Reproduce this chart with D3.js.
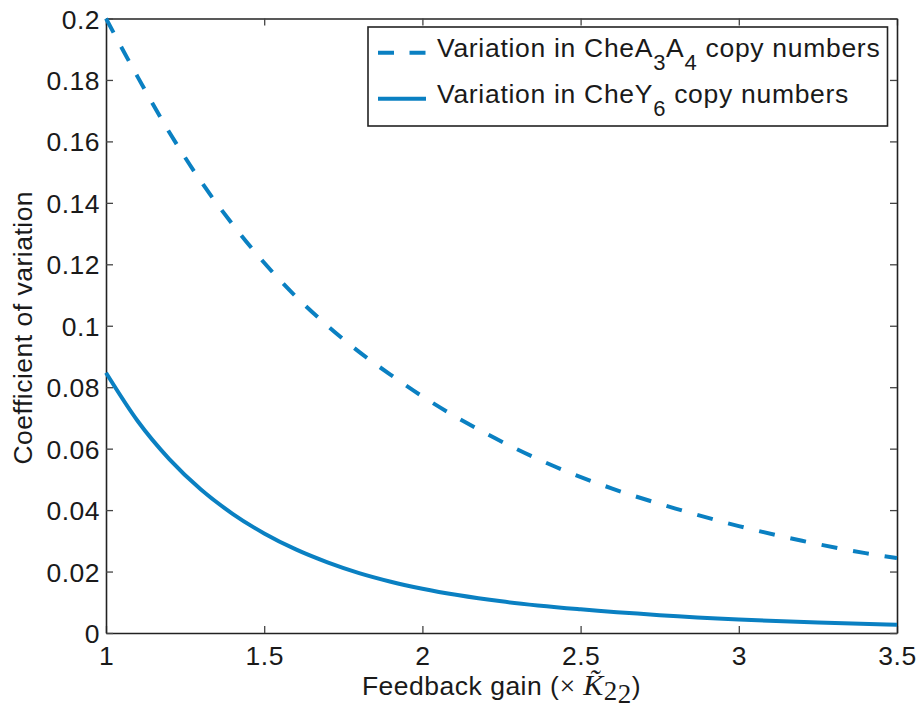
<!DOCTYPE html>
<html>
<head>
<meta charset="utf-8">
<script src="https://cdn.jsdelivr.net/npm/d3@7"></script>
<style>
  html, body { margin: 0; padding: 0; background: #fff; }
  svg { display: block; }
  text { font-family: "Liberation Sans", Arial, Helvetica, sans-serif; fill: #1a1a1a; letter-spacing: 0.5px; }
</style>
</head>
<body>
<svg id="chart" width="917" height="714"></svg>
<script>
// Feedback gain values (multiples of K22)
const gainA = [1.0, 1.1, 1.2, 1.3, 1.4, 1.5, 1.6, 1.7, 1.8, 1.9, 2.0, 2.2, 2.4, 2.6, 2.8, 3.0, 3.2, 3.4, 3.5];
// Coefficient of variation when CheA3A4 copy numbers vary
const cvCheA = [0.200, 0.181, 0.163, 0.147, 0.133, 0.1205, 0.1095, 0.100, 0.0915, 0.084, 0.077, 0.065, 0.055, 0.047, 0.0405, 0.0348, 0.030, 0.026, 0.0244];

const gainY = [1.0, 1.1, 1.2, 1.3, 1.4, 1.5, 1.6, 1.7, 1.8, 1.9, 2.0, 2.25, 2.5, 2.75, 3.0, 3.25, 3.5];
// Coefficient of variation when CheY6 copy numbers vary
const cvCheY = [0.0847, 0.0690, 0.0566, 0.0467, 0.0388, 0.0324, 0.0272, 0.0230, 0.0195, 0.0167, 0.0144, 0.0103, 0.0077, 0.0058, 0.0044, 0.0034, 0.0027];

const xTicks = [1, 1.5, 2, 2.5, 3, 3.5];
const yTicks = [0, 0.02, 0.04, 0.06, 0.08, 0.1, 0.12, 0.14, 0.16, 0.18, 0.2];

const lineColor = "#0a80c2";
const margin = { left: 106, right: 897, top: 18.5, bottom: 633 };
const fontSize = 26.5;

const svg = d3.select("#chart");
const x = d3.scaleLinear().domain([1, 3.5]).range([margin.left, margin.right]);
const y = d3.scaleLinear().domain([0, 0.2]).range([margin.bottom, margin.top]);

const tickLen = 7;
const fmt = d => String(d);

// Bottom axis with inward ticks
const gx = svg.append("g").attr("transform", `translate(0,${margin.bottom})`)
  .call(d3.axisBottom(x).tickValues(xTicks).tickFormat(fmt).tickSizeInner(-tickLen).tickSizeOuter(0).tickPadding(13));
// Top axis (ticks only)
const gxt = svg.append("g").attr("transform", `translate(0,${margin.top})`)
  .call(d3.axisTop(x).tickValues(xTicks).tickFormat("").tickSizeInner(-tickLen).tickSizeOuter(0));
// Left axis
const gy = svg.append("g").attr("transform", `translate(${margin.left},0)`)
  .call(d3.axisLeft(y).tickValues(yTicks).tickFormat(fmt).tickSizeInner(-tickLen).tickSizeOuter(0).tickPadding(6));
// Right axis (ticks only)
const gyr = svg.append("g").attr("transform", `translate(${margin.right},0)`)
  .call(d3.axisRight(y).tickValues(yTicks).tickFormat("").tickSizeInner(-tickLen).tickSizeOuter(0));

[gx, gxt, gy, gyr].forEach(g => {
  g.select(".domain").attr("stroke", "#222").attr("stroke-width", 1.6);
  g.selectAll(".tick line").attr("stroke", "#444").attr("stroke-width", 1.3);
  g.selectAll(".tick text").attr("font-size", fontSize).attr("fill", "#1a1a1a")
    .attr("font-family", "'Liberation Sans', Arial, Helvetica, sans-serif");
});
gx.selectAll(".tick text").attr("dy", "0.71em");
gy.selectAll(".tick text").attr("dy", "0.36em");

// Curves
const line = d3.line().curve(d3.curveMonotoneX);

svg.append("path")
  .datum(gainA.map((g, i) => [x(g), y(cvCheA[i])]))
  .attr("d", line)
  .attr("fill", "none")
  .attr("stroke", lineColor)
  .attr("stroke-width", 4)
  .attr("stroke-dasharray", "16,16");

svg.append("path")
  .datum(gainY.map((g, i) => [x(g), y(cvCheY[i])]))
  .attr("d", line)
  .attr("fill", "none")
  .attr("stroke", lineColor)
  .attr("stroke-width", 4);

// Legend
const lg = svg.append("g");
lg.append("rect")
  .attr("x", 368).attr("y", 27).attr("width", 519.5).attr("height", 99)
  .attr("fill", "#fff").attr("stroke", "#222").attr("stroke-width", 1.6);

const legendRows = [
  { y: 56.7, dash: "16,15.5", parts: [["Variation in CheA", 0], ["3", 1], ["A", 0], ["4", 1], [" copy numbers", 0]] },
  { y: 102.7, dash: null, parts: [["Variation in CheY", 0], ["6", 1], [" copy numbers", 0]] }
];
legendRows.forEach(r => {
  lg.append("line")
    .attr("x1", 378).attr("x2", 426)
    .attr("y1", r.y - 4).attr("y2", r.y - 4)
    .attr("stroke", lineColor).attr("stroke-width", 4)
    .attr("stroke-dasharray", r.dash);
  const t = lg.append("text").attr("x", 437).attr("y", r.y).attr("font-size", fontSize)
    .style("letter-spacing", "0.7px");
  let prevSub = false;
  r.parts.forEach(([s, sub]) => {
    const ts = t.append("tspan").text(s);
    if (sub) { ts.attr("font-size", 22).attr("dy", 13); prevSub = true; }
    else if (prevSub) { ts.attr("dy", -13); prevSub = false; }
  });
});

// Axis labels
svg.append("text")
  .attr("transform", `translate(32,${(margin.top + margin.bottom) / 2 + 2}) rotate(-90)`)
  .attr("text-anchor", "middle")
  .attr("font-size", fontSize)
  .text("Coefficient of variation");

const serif = "'Liberation Serif', 'Times New Roman', serif";
const xl = svg.append("text")
  .attr("x", (margin.left + margin.right) / 2).attr("y", 695)
  .attr("text-anchor", "middle")
  .attr("font-size", fontSize);
xl.append("tspan").text("Feedback gain (");
xl.append("tspan").text("\u00D7 ").attr("font-family", serif).attr("font-size", 28);
xl.append("tspan").text("K\u0303").attr("font-family", serif).attr("font-style", "italic").attr("font-size", 30);
xl.append("tspan").text("2").attr("font-family", serif).attr("font-size", 27).attr("dy", 5);
xl.append("tspan").text("2").attr("font-family", serif).attr("font-size", 27).attr("dy", 3);
xl.append("tspan").text(")").attr("dy", -8);
</script>
</body>
</html>
